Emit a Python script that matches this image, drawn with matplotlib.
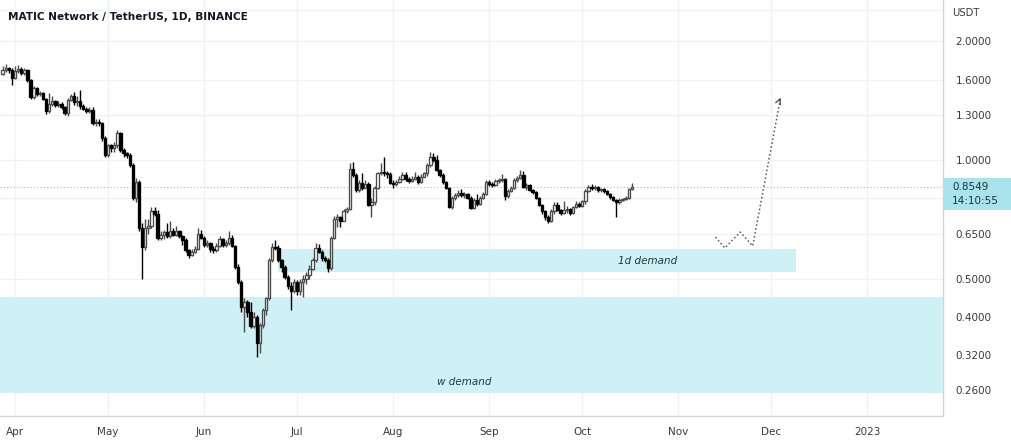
import numpy as np
import matplotlib
matplotlib.use("Agg")
import matplotlib.pyplot as plt
import matplotlib.dates as mdates
from matplotlib.patches import Rectangle

# daily MATIC/USDT candles, 2022-03-28 .. 2022-10-18 (open = previous close)
start_day = "2022-03-28"
first_open = 1.65
closes = [
    1.69, 1.71, 1.69, 1.62,  # end of March
    1.68, 1.70, 1.66, 1.69, 1.60, 1.445, 1.52, 1.47, 1.48, 1.43,
    1.33, 1.39, 1.41, 1.38, 1.39, 1.36, 1.32, 1.42, 1.45, 1.40,
    1.41, 1.37, 1.35, 1.33, 1.34, 1.24, 1.25, 1.24, 1.14, 1.03,
    1.09, 1.07, 1.09, 1.17, 1.06, 1.04, 1.03, 0.97, 0.80, 0.88,
    0.67, 0.60, 0.67, 0.68, 0.74, 0.73, 0.635, 0.645, 0.655, 0.64,
    0.66, 0.645, 0.66, 0.64, 0.625, 0.59, 0.575, 0.585, 0.595, 0.65,
    0.635, 0.61, 0.615, 0.595, 0.59, 0.605, 0.63, 0.61, 0.615, 0.635,
    0.605, 0.535, 0.49, 0.423, 0.435, 0.41, 0.378, 0.40, 0.343, 0.38,
    0.415, 0.445, 0.556, 0.60, 0.598, 0.557, 0.535, 0.505, 0.48, 0.465,
    0.49, 0.465, 0.49, 0.50, 0.51, 0.53, 0.557, 0.598, 0.585, 0.565,
    0.557, 0.532, 0.634, 0.71, 0.715, 0.70, 0.74, 0.75, 0.95, 0.915,
    0.84, 0.875, 0.85, 0.87, 0.77, 0.78, 0.85, 0.925, 0.935, 0.925,
    0.92, 0.875, 0.87, 0.88, 0.895, 0.915, 0.895, 0.885, 0.895, 0.905,
    0.88, 0.905, 0.925, 0.97, 1.02, 1.00, 0.945, 0.915, 0.88, 0.85,
    0.76, 0.80, 0.815, 0.825, 0.815, 0.82, 0.80, 0.755, 0.79, 0.775,
    0.80, 0.82, 0.88, 0.87, 0.865, 0.885, 0.89, 0.895, 0.81, 0.835,
    0.85, 0.89, 0.90, 0.915, 0.855, 0.865, 0.84, 0.83, 0.80, 0.77,
    0.74, 0.715, 0.70, 0.74, 0.77, 0.745, 0.735, 0.745, 0.75, 0.735,
    0.76, 0.775, 0.765, 0.785, 0.835, 0.855, 0.85, 0.855, 0.84, 0.845,
    0.835, 0.82, 0.805, 0.79, 0.78, 0.79, 0.795, 0.80, 0.845, 0.8549,
]
highs = [
    1.73, 1.75, 1.72, 1.71,
    1.73, 1.74, 1.72, 1.71, 1.70, 1.61, 1.54, 1.53, 1.50, 1.49,
    1.44, 1.48, 1.45, 1.42, 1.41, 1.40, 1.37, 1.44, 1.47, 1.49,
    1.45, 1.51, 1.39, 1.36, 1.36, 1.36, 1.27, 1.27, 1.25, 1.15,
    1.10, 1.10, 1.11, 1.19, 1.18, 1.07, 1.05, 1.04, 0.98, 0.90,
    0.89, 0.69, 0.71, 0.71, 0.76, 0.76, 0.745, 0.66, 0.665, 0.69,
    0.70, 0.67, 0.68, 0.665, 0.645, 0.635, 0.595, 0.595, 0.605, 0.67,
    0.665, 0.64, 0.625, 0.62, 0.605, 0.615, 0.64, 0.635, 0.625, 0.66,
    0.645, 0.61, 0.545, 0.495, 0.445, 0.44, 0.435, 0.41, 0.405, 0.385,
    0.42, 0.45, 0.565, 0.615, 0.625, 0.61, 0.56, 0.54, 0.51, 0.49,
    0.50, 0.495, 0.50, 0.51, 0.52, 0.54, 0.565, 0.615, 0.612, 0.59,
    0.57, 0.565, 0.64, 0.72, 0.73, 0.72, 0.75, 0.76, 0.98, 0.99,
    0.925, 0.89, 0.927, 0.89, 0.88, 0.80, 0.86, 0.93, 0.98, 1.02,
    0.94, 0.93, 0.89, 0.89, 0.91, 0.93, 0.93, 0.905, 0.91, 0.93,
    0.915, 0.92, 0.935, 0.98, 1.05, 1.04, 1.03, 0.95, 0.925, 0.885,
    0.855, 0.81, 0.825, 0.84, 0.845, 0.83, 0.825, 0.81, 0.80, 0.82,
    0.81, 0.83, 0.89, 0.89, 0.88, 0.895, 0.90, 0.92, 0.90, 0.845,
    0.86, 0.90, 0.91, 0.945, 0.94, 0.875, 0.87, 0.845, 0.835, 0.805,
    0.775, 0.745, 0.725, 0.75, 0.78, 0.78, 0.75, 0.785, 0.765, 0.755,
    0.765, 0.785, 0.78, 0.79, 0.845, 0.865, 0.87, 0.865, 0.86, 0.85,
    0.85, 0.84, 0.825, 0.81, 0.795, 0.80, 0.80, 0.81, 0.85, 0.875,
]
lows = [
    1.64, 1.67, 1.66, 1.55,
    1.61, 1.66, 1.64, 1.64, 1.58, 1.43, 1.43, 1.45, 1.45, 1.42,
    1.31, 1.32, 1.37, 1.36, 1.36, 1.35, 1.30, 1.29, 1.41, 1.38,
    1.37, 1.35, 1.34, 1.32, 1.32, 1.23, 1.22, 1.22, 1.12, 1.02,
    1.02, 1.05, 1.05, 1.07, 1.05, 1.02, 1.01, 0.96, 0.79, 0.78,
    0.66, 0.50, 0.59, 0.65, 0.67, 0.72, 0.625, 0.625, 0.63, 0.635,
    0.635, 0.64, 0.64, 0.635, 0.61, 0.585, 0.565, 0.57, 0.58, 0.59,
    0.63, 0.60, 0.60, 0.585, 0.58, 0.585, 0.60, 0.60, 0.60, 0.61,
    0.60, 0.53, 0.485, 0.41, 0.365, 0.40, 0.375, 0.375, 0.316, 0.323,
    0.375, 0.405, 0.44, 0.55, 0.59, 0.55, 0.52, 0.50, 0.47, 0.415,
    0.46, 0.455, 0.455, 0.449, 0.485, 0.50, 0.525, 0.55, 0.58, 0.555,
    0.55, 0.52, 0.525, 0.63, 0.675, 0.675, 0.70, 0.735, 0.745, 0.905,
    0.83, 0.83, 0.84, 0.85, 0.765, 0.717, 0.77, 0.845, 0.915, 0.91,
    0.90, 0.87, 0.85, 0.86, 0.875, 0.89, 0.885, 0.875, 0.88, 0.89,
    0.87, 0.875, 0.905, 0.91, 0.96, 0.99, 0.94, 0.905, 0.87, 0.845,
    0.755, 0.75, 0.79, 0.805, 0.805, 0.80, 0.795, 0.75, 0.75, 0.765,
    0.77, 0.795, 0.815, 0.86, 0.855, 0.86, 0.875, 0.88, 0.79, 0.80,
    0.83, 0.845, 0.88, 0.895, 0.85, 0.84, 0.835, 0.82, 0.795, 0.765,
    0.73, 0.705, 0.69, 0.695, 0.73, 0.74, 0.725, 0.73, 0.735, 0.725,
    0.73, 0.755, 0.76, 0.76, 0.775, 0.83, 0.84, 0.84, 0.83, 0.83,
    0.825, 0.815, 0.795, 0.785, 0.715, 0.775, 0.785, 0.79, 0.795, 0.84,
]
last_price = 0.8549
countdown = "14:10:55"

# zones and projected path
zone_1d = ("2022-06-25", "2022-12-09", 0.519, 0.594, "1d demand", "2022-10-22")
zone_w = ("2022-01-01", "2023-03-01", 0.256, 0.449, "w demand", "2022-08-24")
path_dates = ["2022-11-13", "2022-11-16", "2022-11-21", "2022-11-25", "2022-12-04"]
path_prices = [0.637, 0.598, 0.656, 0.605, 1.44]

price_ticks = [0.26, 0.32, 0.40, 0.50, 0.65, 0.80, 1.0, 1.3, 1.6, 2.0, 2.4]
hidden_ticks = [0.80, 2.4]
month_ticks = ["2022-04-01", "2022-05-01", "2022-06-01", "2022-07-01", "2022-08-01",
               "2022-09-01", "2022-10-01", "2022-11-01", "2022-12-01", "2023-01-01"]
month_labels = ["Apr", "May", "Jun", "Jul", "Aug", "Sep", "Oct", "Nov", "Dec", "2023"]

W, H = 1011, 444
fig = plt.figure(figsize=(W / 100, H / 100), dpi=100)
ax = fig.add_axes([0, 28 / H, 943 / W, 1 - 28 / H])

closes = np.array(closes)
highs = np.array(highs)
lows = np.array(lows)
opens = np.concatenate([[first_open], closes[:-1]])
days = np.arange(np.datetime64(start_day), np.datetime64(start_day) + len(closes))
x = mdates.date2num(days)
up = closes >= opens

# zones (behind candles)
for z in (zone_1d, zone_w):
    x0, x1 = mdates.date2num(np.datetime64(z[0])), mdates.date2num(np.datetime64(z[1]))
    ax.add_patch(Rectangle((x0, z[2]), x1 - x0, z[3] - z[2], facecolor="#cff1f5",
                           edgecolor="none", zorder=1))
ax.text(mdates.date2num(np.datetime64(zone_1d[5])), (zone_1d[2] * zone_1d[3]) ** 0.5,
        zone_1d[4], style="italic", fontsize=7.5, color="#1e3b3d",
        ha="center", va="center", zorder=5)
ax.text(mdates.date2num(np.datetime64(zone_w[5])), 0.273, zone_w[4], style="italic",
        fontsize=7.5, color="#1e3b3d", ha="center", va="center", zorder=5)

# candles
ax.vlines(x[up], lows[up], highs[up], color="#4a4a4a", lw=1.0, zorder=2)
ax.vlines(x[~up], lows[~up], highs[~up], color="#000000", lw=1.0, zorder=2)
body_lo = np.minimum(opens, closes)
body_h = np.abs(closes - opens)
ax.bar(x[up], body_h[up], bottom=body_lo[up], width=0.78, color="white",
       edgecolor="#4a4a4a", linewidth=0.95, zorder=3)
ax.bar(x[~up], body_h[~up], bottom=body_lo[~up], width=0.78, color="black",
       edgecolor="black", linewidth=0.95, zorder=3)

# last price line
ax.axhline(last_price, color="#b8b8b8", lw=0.8, ls=(0, (1, 2)), zorder=1.5)

# projected path
px = mdates.date2num(np.array(path_dates, dtype="datetime64[D]"))
ax.plot(px, path_prices, color="#555555", lw=1.1, ls=(0, (1, 1.6)), zorder=4)
ax.annotate("", xy=(px[-1], path_prices[-1]), xytext=(px[-1] - 0.6, path_prices[-1] * 0.975),
            arrowprops=dict(arrowstyle="->", color="#555555", lw=1.0,
                            mutation_scale=9), zorder=4)

ax.set_yscale("log")
ax.set_ylim(0.2238, 2.549)
ax.set_xlim(mdates.date2num(np.datetime64("2022-03-28")) - 0.85,
            mdates.date2num(np.datetime64("2022-03-28")) + 303.4)

ax.yaxis.set_minor_locator(matplotlib.ticker.NullLocator())
ax.set_yticks(price_ticks)
ax.set_yticklabels(["" if t in hidden_ticks else "%.4f" % t for t in price_ticks])
ax.yaxis.tick_right()
ax.tick_params(axis="y", length=0, pad=9, labelsize=7.5, labelcolor="#3a3a3a")
ax.xaxis.set_minor_locator(matplotlib.ticker.NullLocator())
ax.set_xticks(mdates.date2num(np.array(month_ticks, dtype="datetime64[D]")))
ax.set_xticklabels(month_labels)
ax.tick_params(axis="x", length=0, pad=8, labelsize=7.5, labelcolor="#3a3a3a")
ax.grid(True, color="#f0f2f5", lw=1.0, zorder=0)
ax.set_axisbelow(True)

for s in ("top", "left"):
    ax.spines[s].set_visible(False)
ax.spines["right"].set_color("#d4d4d4")
ax.spines["bottom"].set_color("#d4d4d4")
ax.spines["right"].set_linewidth(1.0)
ax.spines["bottom"].set_linewidth(1.0)

# title, currency, last price tag
fig.text(8 / W, 1 - 17 / H, "MATIC Network / TetherUS, 1D, BINANCE", fontsize=7.6,
         fontweight="bold", color="#131722", va="center", ha="left")
fig.text(952 / W, 1 - 13 / H, "USDT", fontsize=7.2, color="#3a3a3a", va="center")
fig.patches.append(Rectangle((943 / W, 1 - 210 / H), 68 / W, 32 / H,
                             transform=fig.transFigure, facecolor="#a9e3ec",
                             edgecolor="none", figure=fig))
fig.text(952 / W, 1 - 187 / H, "%.4f" % last_price, fontsize=7.5, color="#1b3438", va="center")
fig.text(952 / W, 1 - 201 / H, countdown, fontsize=7.5, color="#1b3438", va="center")

fig.savefig("out.png", dpi=100)
